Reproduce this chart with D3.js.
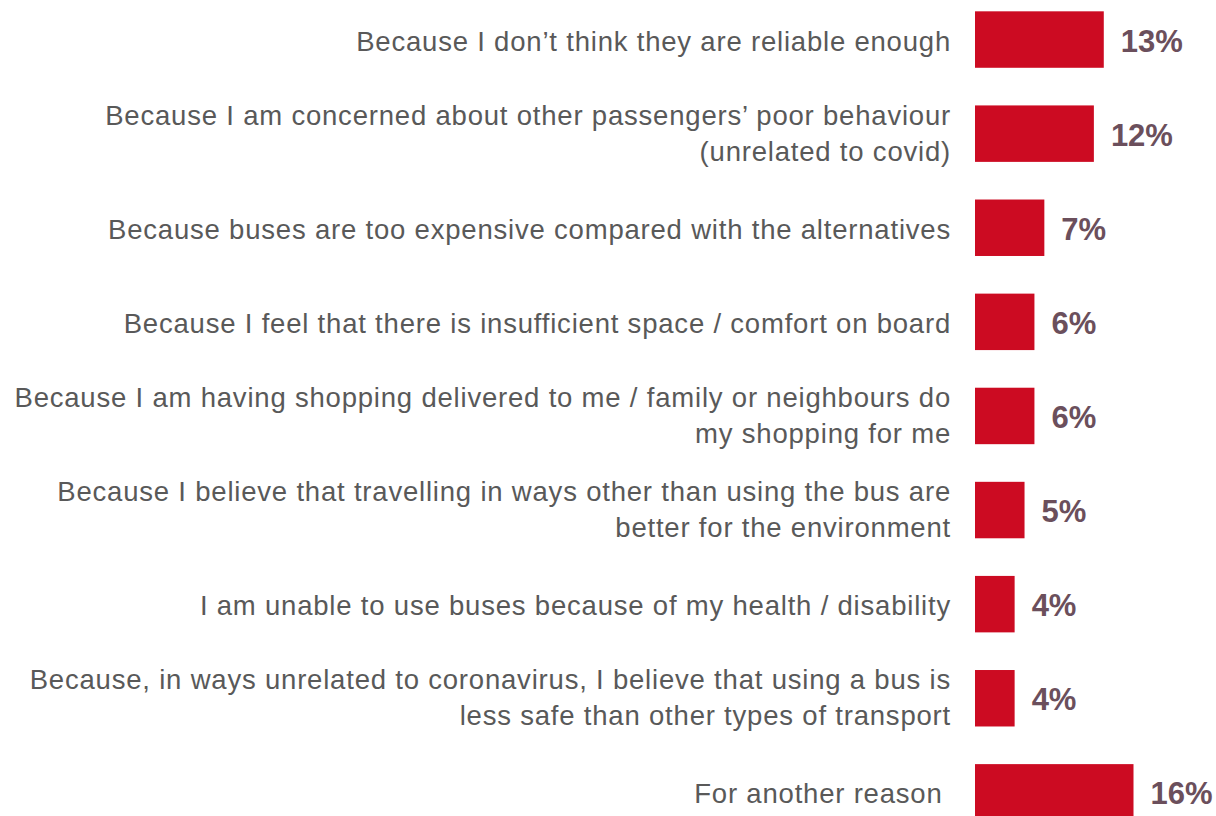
<!DOCTYPE html>
<html>
<head>
<meta charset="utf-8">
<script src="https://cdn.jsdelivr.net/npm/d3@7"></script>
<style>
  body { margin: 0; background: #fff; }
  svg { display: block; }
</style>
</head>
<body>
<div id="draw_here"></div>
<script type="text/javascript">
    // Data
    reasons = [
        ["Because I don\u2019t think they are reliable enough"],
        ["Because I am concerned about other passengers\u2019 poor behaviour", "(unrelated to covid)"],
        ["Because buses are too expensive compared with the alternatives"],
        ["Because I feel that there is insufficient space / comfort on board"],
        ["Because I am having shopping delivered to me / family or neighbours do", "my shopping for me"],
        ["Because I believe that travelling in ways other than using the bus are", "better for the environment"],
        ["I am unable to use buses because of my health / disability"],
        ["Because, in ways unrelated to coronavirus, I believe that using a bus is", "less safe than other types of transport"],
        ["For another reason\u00a0"]
    ]
    values = [13, 12, 7, 6, 6, 5, 4, 4, 16]
    valueLabels = ["13%", "12%", "7%", "6%", "6%", "5%", "4%", "4%", "16%"]

    canvas = ({width: 1216, height: 816})

    bar_red = "#cc0b22"
    label_grey = "#595959"
    value_col = "#6b4f5c"

    idx = d3.range(values.length)

    // Scales
    x = d3.scaleLinear()
        .domain([0, 16])
        .range([975, 975 + 158.5])

    y = d3.scaleBand()
        .domain(idx)
        .range([-7.5, 839.4])
        .paddingInner(0.4)
        .paddingOuter(0.2)

    var svg = d3.select("div#draw_here").append("svg")
        .attr("width", canvas.width)
        .attr("height", canvas.height)
        .attr("viewBox", [0, 0, canvas.width, canvas.height])

    // Bars
    svg.append("g")
        .selectAll("rect")
        .data(idx)
        .join("rect")
        .attr("x", x(0))
        .attr("y", i => y(i))
        .attr("width", i => x(values[i]) - x(0))
        .attr("height", y.bandwidth())
        .attr("fill", bar_red)

    // Value labels
    svg.append("g")
        .selectAll("text")
        .data(idx)
        .join("text")
        .attr("x", i => x(values[i]) + 17)
        .attr("y", i => y(i) + y.bandwidth() / 2 + 12)
        .attr("font-family", "Liberation Sans, Arial, sans-serif")
        .attr("font-weight", "bold")
        .attr("font-size", 31)
        .attr("fill", value_col)
        .text(i => valueLabels[i])

    // Category labels (right aligned, one tspan per line)
    lineH = 36
    cats = svg.append("g")
        .attr("font-family", "Liberation Sans, Arial, sans-serif")
        .attr("font-size", 27.5)
        .attr("letter-spacing", 0.8)
        .attr("fill", label_grey)
        .attr("text-anchor", "end")
        .selectAll("text")
        .data(idx)
        .join("text")
        .attr("y", i => y(i) + y.bandwidth() / 2)

    cats.selectAll("tspan")
        .data(i => reasons[i].map((t, k, arr) => ({t: t, k: k, n: arr.length})))
        .join("tspan")
        .attr("x", 951)
        .attr("dy", d => d.k == 0 ? (d.n == 1 ? 11 : -9) : lineH)
        .text(d => d.t)
</script>
</body>
</html>
